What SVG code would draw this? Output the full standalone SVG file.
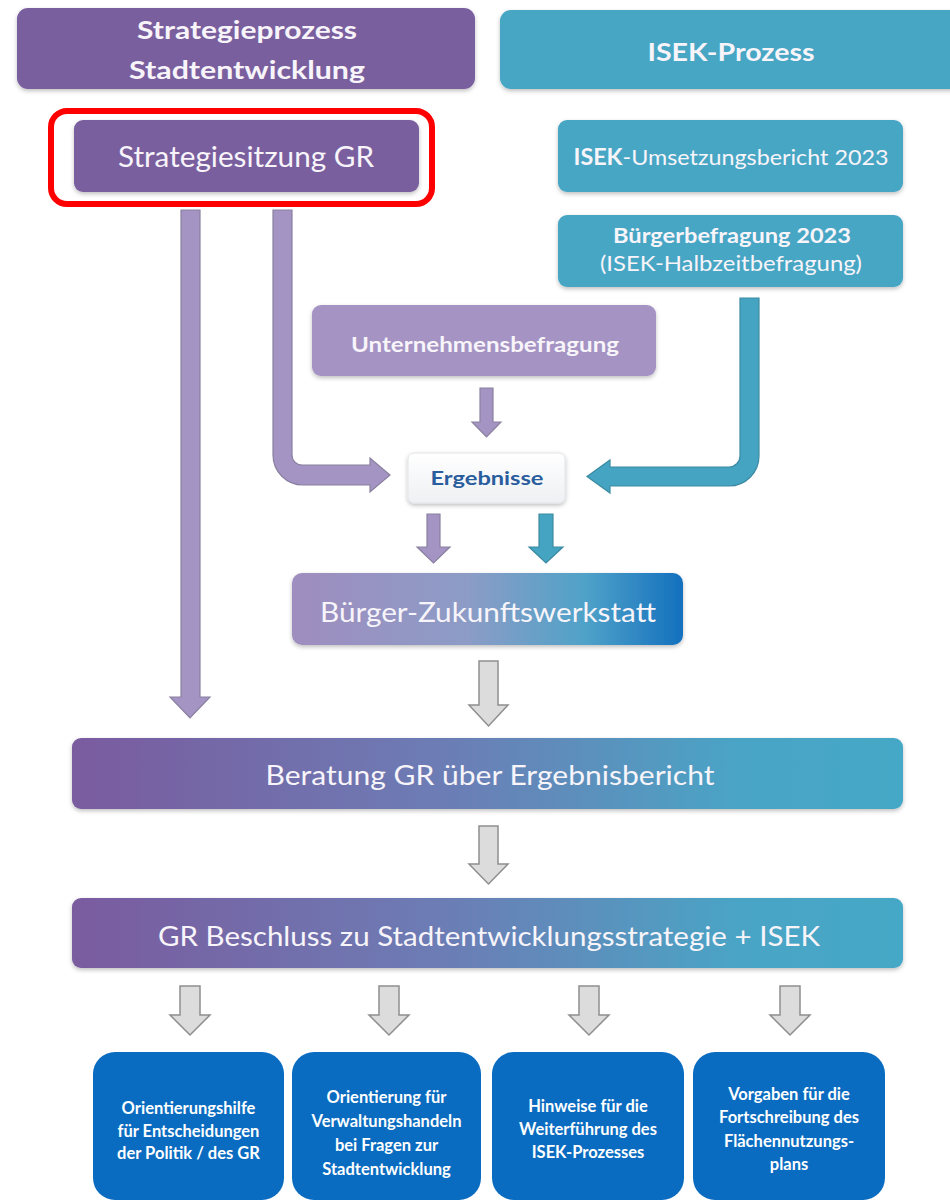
<svg xmlns="http://www.w3.org/2000/svg" width="950" height="1201" viewBox="0 0 950 1201">
<defs>
<linearGradient id="gBZ" x1="0" y1="0" x2="1" y2="0">
<stop offset="0" stop-color="#9F8DBF"/>
<stop offset="0.45" stop-color="#8C9CC6"/>
<stop offset="0.75" stop-color="#4FA2C8"/>
<stop offset="1" stop-color="#1470BE"/>
</linearGradient>
<linearGradient id="gGR" x1="0" y1="0" x2="1" y2="0">
<stop offset="0" stop-color="#7A5B9F"/>
<stop offset="0.45" stop-color="#6C7DB5"/>
<stop offset="0.8" stop-color="#4AA4C5"/>
<stop offset="1" stop-color="#45A8C6"/>
</linearGradient>
<linearGradient id="gErg" x1="0" y1="0" x2="0" y2="1">
<stop offset="0" stop-color="#FFFFFF"/>
<stop offset="1" stop-color="#EEF0F3"/>
</linearGradient>
<filter id="sh" x="-10%" y="-10%" width="120%" height="130%">
<feDropShadow dx="0" dy="2" stdDeviation="2" flood-color="#000" flood-opacity="0.25"/>
</filter>
<style>
text{font-family:Lato,"Liberation Sans",sans-serif;fill:#F7F4FA;text-anchor:middle}
.b{font-weight:bold}
.purple{fill:#7A5E9F}
.teal{fill:#47A6C4}
.lav{fill:#A493C3}
.blue{fill:#0A6CC0}
.ap{fill:#A394C3;stroke:#8A809F;stroke-width:1.2}
.at{fill:#45A4C1;stroke:#3C8AA2;stroke-width:1.2}
.ag{fill:#DCDCDC;stroke:#8E8E8E;stroke-width:1.5}
.bt{font-size:16.5px;font-weight:bold;fill:#FFFFFF}
</style>
</defs>
<rect width="950" height="1201" fill="#FFFFFF"/>

<g id="connectors">
<path class="ap" d="M181,210 H200 V697 H210 L190,718 L170,697 H181 Z"/>
<path class="ap" d="M273,210 H292 V455 A10,10 0 0 0 302,465 H370 V458 L390,475 L370,492 V485 H303 A30,30 0 0 1 273,455 Z"/>
<path class="at" d="M740,298 H759 V456 A30,30 0 0 1 729,486 H610 V493 L587,476.5 L610,460 V467 H729 A11,11 0 0 0 740,456 Z"/>
<path class="ap" d="M480,388 H493 V422 H501 L486.5,437 L472,422 H480 Z"/>
<path class="ap" d="M427,514 H440 V547 H450 L433.5,563 L417,547 H427 Z"/>
<path class="at" d="M539,514 H553 V547 H563 L546,563 L529,547 H539 Z"/>
<path class="ag" d="M479,661 H498 V705 H508 L488.5,726 L469,705 H479 Z"/>
<path class="ag" d="M479,826 H498 V864 H508 L488.5,884 L469,864 H479 Z"/>
<path class="ag" d="M180,986 H200 V1015 H210 L190,1035 L170,1015 H180 Z"/>
<path class="ag" d="M379,986 H399 V1015 H409 L389,1035 L369,1015 H379 Z"/>
<path class="ag" d="M579,986 H599 V1015 H609 L589,1035 L569,1015 H579 Z"/>
<path class="ag" d="M780,986 H800 V1015 H810 L790,1035 L770,1015 H780 Z"/>
</g>

<g id="hdr-strategie">
<rect class="purple" x="17" y="8" width="458" height="81" rx="11" filter="url(#sh)"/>
<text class="b" x="247" y="39" font-size="24" textLength="220" lengthAdjust="spacingAndGlyphs">Strategieprozess</text>
<text class="b" x="247" y="79" font-size="24" textLength="236" lengthAdjust="spacingAndGlyphs">Stadtentwicklung</text>
</g>

<g id="hdr-isek">
<rect class="teal" x="500" y="10" width="470" height="79" rx="11" filter="url(#sh)"/>
<text class="b" x="731" y="61" font-size="25" textLength="167" lengthAdjust="spacingAndGlyphs">ISEK-Prozess</text>
</g>

<g id="strategiesitzung">
<rect x="51" y="111" width="381" height="93" rx="16" fill="none" stroke="#FF0000" stroke-width="6"/>
<rect class="purple" x="74" y="120" width="345" height="72" rx="9" filter="url(#sh)"/>
<text x="246" y="167" font-size="29" textLength="256" lengthAdjust="spacingAndGlyphs">Strategiesitzung GR</text>
</g>

<g id="umsetzungsbericht">
<rect class="teal" x="558" y="120" width="345" height="72" rx="9" filter="url(#sh)"/>
<text x="731" y="165" font-size="22" textLength="315" lengthAdjust="spacingAndGlyphs"><tspan font-weight="bold">ISEK</tspan>-Umsetzungsbericht 2023</text>
</g>

<g id="buergerbefragung">
<rect class="teal" x="558" y="215" width="345" height="72" rx="9" filter="url(#sh)"/>
<text class="b" x="732" y="243" font-size="20" textLength="238" lengthAdjust="spacingAndGlyphs">Bürgerbefragung 2023</text>
<text x="731" y="271" font-size="21" textLength="262" lengthAdjust="spacingAndGlyphs">(ISEK-Halbzeitbefragung)</text>
</g>

<g id="unternehmensbefragung">
<rect class="lav" x="312" y="305" width="344" height="71" rx="9" filter="url(#sh)"/>
<text class="b" x="485" y="352" font-size="20" textLength="268" lengthAdjust="spacingAndGlyphs">Unternehmensbefragung</text>
</g>

<g id="ergebnisse">
<rect x="408" y="453" width="157" height="50" rx="6" fill="url(#gErg)" stroke="#E2E4E8" filter="url(#sh)"/>
<text class="b" x="487" y="485" font-size="19" style="fill:#2A5D9E" textLength="113" lengthAdjust="spacingAndGlyphs">Ergebnisse</text>
</g>

<g id="zukunftswerkstatt">
<rect x="292" y="573" width="391" height="72" rx="10" fill="url(#gBZ)" filter="url(#sh)"/>
<text x="488" y="622" font-size="27" textLength="336" lengthAdjust="spacingAndGlyphs">Bürger-Zukunftswerkstatt</text>
</g>

<g id="beratung">
<rect x="72" y="738" width="831" height="71" rx="9" fill="url(#gGR)" filter="url(#sh)"/>
<text x="490" y="785" font-size="27" textLength="449" lengthAdjust="spacingAndGlyphs">Beratung GR über Ergebnisbericht</text>
</g>

<g id="beschluss">
<rect x="72" y="898" width="831" height="70" rx="9" fill="url(#gGR)" filter="url(#sh)"/>
<text x="489" y="946" font-size="27" textLength="662" lengthAdjust="spacingAndGlyphs">GR Beschluss zu Stadtentwicklungsstrategie + ISEK</text>
</g>

<g id="out-politik">
<rect class="blue" x="93" y="1052" width="191" height="148" rx="22"/>
<text class="bt" x="188.5" y="1114">Orientierungshilfe</text>
<text class="bt" x="188.5" y="1137">für Entscheidungen</text>
<text class="bt" x="188.5" y="1159">der Politik / des GR</text>
</g>

<g id="out-verwaltung">
<rect class="blue" x="292" y="1052" width="189" height="148" rx="22"/>
<text class="bt" x="386.5" y="1103">Orientierung für</text>
<text class="bt" x="386.5" y="1127">Verwaltungshandeln</text>
<text class="bt" x="386.5" y="1151">bei Fragen zur</text>
<text class="bt" x="386.5" y="1175">Stadtentwicklung</text>
</g>

<g id="out-isek">
<rect class="blue" x="492" y="1052" width="192" height="148" rx="22"/>
<text class="bt" x="588" y="1112">Hinweise für die</text>
<text class="bt" x="588" y="1135">Weiterführung des</text>
<text class="bt" x="588" y="1158">ISEK-Prozesses</text>
</g>

<g id="out-fnp">
<rect class="blue" x="693" y="1052" width="192" height="148" rx="22"/>
<text class="bt" x="789" y="1100">Vorgaben für die</text>
<text class="bt" x="789" y="1123">Fortschreibung des</text>
<text class="bt" x="789" y="1147">Flächennutzungs-</text>
<text class="bt" x="789" y="1170">plans</text>
</g>
</svg>
